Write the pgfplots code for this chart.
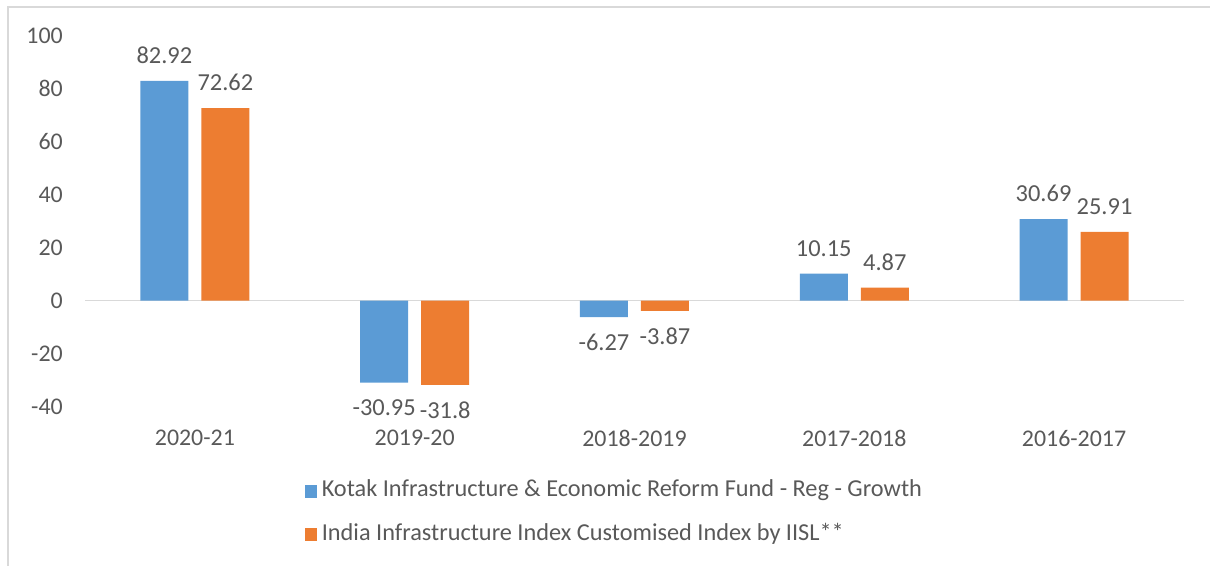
\documentclass[border=0pt]{standalone}
\usepackage{pgfplots}
\pgfplotsset{compat=1.18}
\usepackage{pgfplotstable}
\usepackage{fontspec}
\setmainfont{Carlito}
\definecolor{kblue}{HTML}{5B9BD5}
\definecolor{korange}{HTML}{ED7D31}
\definecolor{ktext}{HTML}{595959}
\definecolor{kline}{HTML}{D9D9D9}

\pgfplotstableread{
x y label
0 82.92 82.92
1 -30.95 -30.95
2 -6.27 -6.27
3 10.15 10.15
4 30.69 30.69
}\fundtable

\pgfplotstableread{
x y label
0 72.62 72.62
1 -31.8 -31.8
2 -3.87 -3.87
3 4.87 4.87
4 25.91 25.91
}\indextable

\begin{document}
\begin{tikzpicture}
\useasboundingbox (0,0) rectangle (1210bp,-566bp);
\draw[kline, line width=1.5bp] (8bp,-7bp) rectangle (1300bp,-700bp);
\begin{axis}[
  at={(85bp,-406.5bp)}, anchor=south west,
  scale only axis, width=1099bp, height=371bp,
  xmin=-0.5, xmax=4.5, ymin=-40, ymax=100,
  ybar=13bp, bar width=48bp,
  axis line style={draw=none},
  major tick style={draw=none}, minor tick style={draw=none},
  xtick={0,1,2,3,4},
  xticklabels={2020-21,2019-20,2018-2019,2017-2018,2016-2017},
  ytick={-40,-20,0,20,40,60,80,100},
  yticklabels={-40,-20,0,20,40,60,80,100},
  tick label style={font=\fontsize{24}{28}\selectfont, text=ktext, inner sep=0pt},
  xticklabel style={anchor=north, yshift=-19bp},
  yticklabel style={anchor=east, xshift=-22bp},
  nodes near coords,
  point meta=explicit symbolic,
  visualization depends on={\thisrow{y} \as \rawy},
  every node near coord/.append style={font=\fontsize{24.5}{28}\selectfont, text=ktext, inner sep=17bp,
    /utils/exec={\ifdim\rawy pt<0pt \gdef\myanch{north}\else\gdef\myanch{south}\fi},
    anchor=\myanch},
  legend style={at={(axis description cs:0.200,-0.287)}, anchor=west,
    draw=none, fill=none, inner sep=0pt, outer sep=0pt,
    font=\fontsize{24.4}{28}\selectfont, text=ktext, row sep=22.5bp,
    nodes={inner sep=0pt, text height=16bp, text depth=5bp},
    /tikz/every odd column/.append style={column sep=4.5bp}},
  legend cell align=left,
  legend image code/.code={\fill (0bp,-6.5bp) rectangle (12.5bp,6.5bp);},
  clip=false,
]
\draw[kline, line width=1.5bp] (axis cs:-0.5,0) -- (axis cs:4.5,0);
\addplot[fill=kblue, draw=none] table[x=x, y=y, meta=label] {\fundtable};
\addplot[fill=korange, draw=none] table[x=x, y=y, meta=label] {\indextable};
\legend{Kotak Infrastructure \& Economic Reform Fund - Reg - Growth, India Infrastructure Index Customised Index by IISL**}
\end{axis}
\end{tikzpicture}
\end{document}
